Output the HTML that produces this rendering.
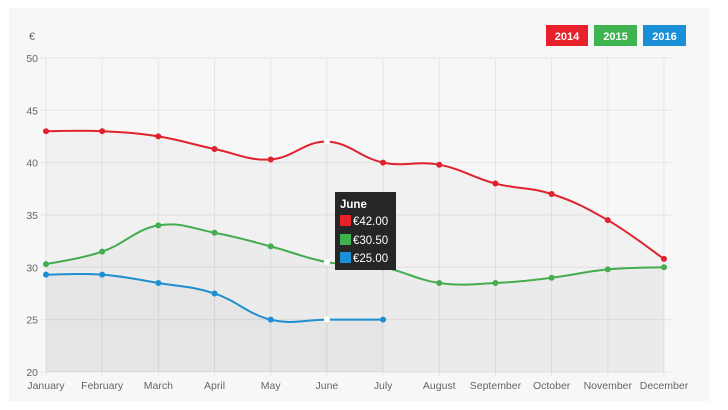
<!DOCTYPE html>
<html><head><meta charset="utf-8"><style>
html,body{margin:0;padding:0;background:#fff;width:728px;height:410px;overflow:hidden}
svg{display:block;font-family:"Liberation Sans",sans-serif}
</style></head><body>
<svg id="s" width="728" height="410" xmlns="http://www.w3.org/2000/svg">
<rect x="9" y="8" width="700" height="393" fill="#f7f7f7"/>
<g id="grid" stroke="#e6e6e6" stroke-width="1"></g>
<g id="fills"></g>
<g id="lines"></g>
<g id="labels" font-size="10.5" fill="#666"></g>
<text x="29" y="40" font-size="11" fill="#666">€</text>
<rect x="546" y="25" width="42" height="21" fill="#e8202a"/>
<text x="567" y="40" font-size="11" font-weight="bold" fill="#fff" text-anchor="middle">2014</text>
<rect x="594" y="25" width="43" height="21" fill="#3fb34f"/>
<text x="615.5" y="40" font-size="11" font-weight="bold" fill="#fff" text-anchor="middle">2015</text>
<rect x="643" y="25" width="43" height="21" fill="#1b8fd6"/>
<text x="664.5" y="40" font-size="11" font-weight="bold" fill="#fff" text-anchor="middle">2016</text>
<g id="tip">
<rect x="335" y="192" width="61" height="78" fill="#262626"/>
<text x="340" y="208" font-size="11.5" font-weight="bold" fill="#fff">June</text>
<rect x="340" y="215" width="11" height="11" fill="#e8202a"/>
<text x="353" y="225" font-size="11.5" fill="#fff">€42.00</text>
<rect x="340" y="234" width="11" height="11" fill="#3fb34f"/>
<text x="353" y="244" font-size="11.5" fill="#fff">€30.50</text>
<rect x="340" y="252" width="11" height="11" fill="#1b8fd6"/>
<text x="353" y="262" font-size="11.5" fill="#fff">€25.00</text>
</g>
</svg>
<script>
var NS="http://www.w3.org/2000/svg";
function el(p,t,a,txt){var e=document.createElementNS(NS,t);for(var k in a)e.setAttribute(k,a[k]);if(txt)e.textContent=txt;document.getElementById(p).appendChild(e);return e;}
var x0=46,dx=56.18,Y=function(v){return 372-(v-20)*10.47;};
var months=["January","February","March","April","May","June","July","August","September","October","November","December"];
for(var v=20;v<=50;v+=5){el("grid","line",{x1:40,x2:672,y1:Y(v),y2:Y(v)});el("labels","text",{x:38,y:Y(v)+4,"text-anchor":"end"},String(v));}
for(var i=0;i<12;i++){var x=x0+i*dx;el("grid","line",{x1:x,x2:x,y1:58,y2:376});el("labels","text",{x:x,y:389,"text-anchor":"middle"},months[i]);}
var data=[
["#e0222c",[43,43,42.5,41.3,40.3,42,40,39.8,38,37,34.5,30.8]],
["#43ad4f",[30.3,31.5,34,33.3,32,30.5,30,28.5,28.5,29,29.8,30]],
["#1e8fd0",[29.3,29.3,28.5,27.5,25,25,25]]];
function path(pts){var d="M"+pts[0][0]+","+pts[0][1];var t=0.4;
for(var i=0;i<pts.length-1;i++){var p0=pts[i-1]||pts[i],p1=pts[i],p2=pts[i+1],p3=pts[i+2]||p2;
var c1=[p1[0]+(p2[0]-p0[0])*t/2,p1[1]+(p2[1]-p0[1])*t/2],c2=[p2[0]-(p3[0]-p1[0])*t/2,p2[1]-(p3[1]-p1[1])*t/2];
d+=" C"+c1[0]+","+c1[1]+" "+c2[0]+","+c2[1]+" "+p2[0]+","+p2[1];}return d;}
data.forEach(function(s){var pts=s[1].map(function(v,i){return [x0+i*dx,Y(v)];});var d=path(pts);
el("fills","path",{d:d+" L"+pts[pts.length-1][0]+",372 L"+x0+",372 Z",fill:"rgba(0,0,0,0.025)"});
el("lines","path",{d:d,fill:"none",stroke:s[0],"stroke-width":2});
pts.forEach(function(p,i){if(i==5)el("lines","circle",{cx:p[0],cy:p[1],r:3,fill:"#fff"});else el("lines","circle",{cx:p[0],cy:p[1],r:3,fill:s[0]});});});
</script>
</body></html>
